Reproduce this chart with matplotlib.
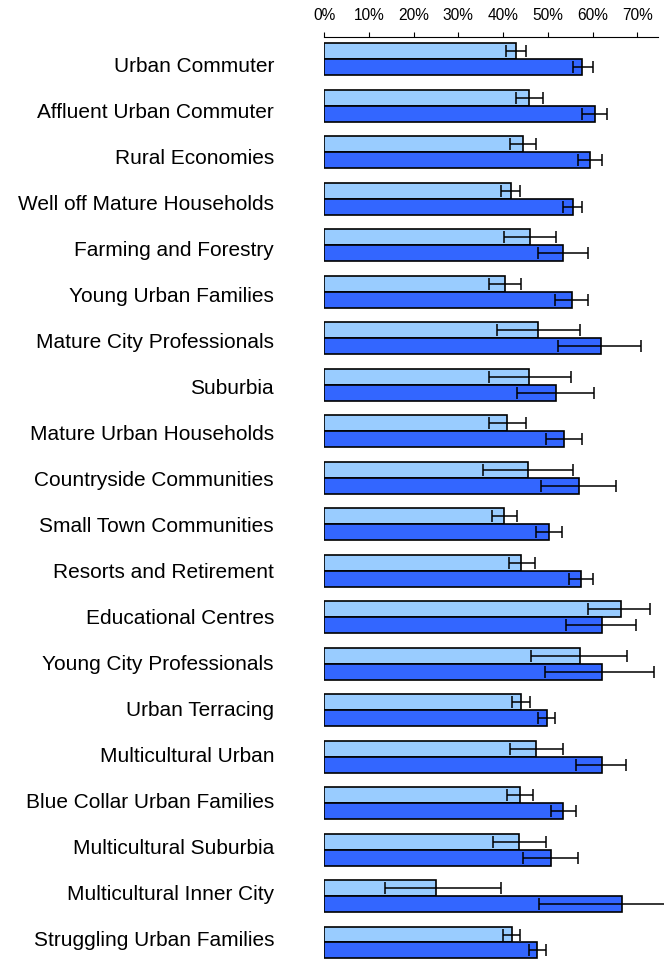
import numpy as np
import matplotlib
matplotlib.use("Agg")
import matplotlib.pyplot as plt
from matplotlib.ticker import PercentFormatter

plt.rcParams['font.family'] = ['Liberation Sans', 'DejaVu Sans']

categories = [
    "Urban Commuter", "Affluent Urban Commuter", "Rural Economies",
    "Well off Mature Households", "Farming and Forestry", "Young Urban Families",
    "Mature City Professionals", "Suburbia", "Mature Urban Households",
    "Countryside Communities", "Small Town Communities", "Resorts and Retirement",
    "Educational Centres", "Young City Professionals", "Urban Terracing",
    "Multicultural Urban", "Blue Collar Urban Families", "Multicultural Suburbia",
    "Multicultural Inner City", "Struggling Urban Families",
]

light_val = [0.429, 0.458, 0.444, 0.417, 0.461, 0.404, 0.479, 0.459, 0.410, 0.456,
             0.403, 0.441, 0.663, 0.572, 0.441, 0.473, 0.438, 0.435, 0.250, 0.419]
light_lo = [0.406, 0.429, 0.415, 0.395, 0.402, 0.369, 0.386, 0.369, 0.369, 0.355,
            0.376, 0.413, 0.591, 0.463, 0.421, 0.415, 0.410, 0.377, 0.136, 0.400]
light_hi = [0.452, 0.490, 0.473, 0.438, 0.519, 0.441, 0.572, 0.551, 0.451, 0.557,
            0.431, 0.471, 0.729, 0.677, 0.461, 0.533, 0.467, 0.495, 0.395, 0.438]

dark_val = [0.577, 0.606, 0.595, 0.556, 0.535, 0.554, 0.620, 0.518, 0.537, 0.570,
            0.502, 0.575, 0.621, 0.621, 0.498, 0.621, 0.535, 0.507, 0.666, 0.476]
dark_lo = [0.557, 0.577, 0.567, 0.535, 0.479, 0.517, 0.523, 0.432, 0.496, 0.484,
           0.473, 0.548, 0.541, 0.493, 0.478, 0.563, 0.507, 0.445, 0.481, 0.458]
dark_hi = [0.600, 0.633, 0.621, 0.576, 0.589, 0.589, 0.709, 0.603, 0.576, 0.653,
           0.531, 0.601, 0.698, 0.737, 0.517, 0.675, 0.562, 0.568, 0.850, 0.495]

x_ticks = [0.0, 0.1, 0.2, 0.3, 0.4, 0.5, 0.6, 0.7]

LIGHT = "#99CCFF"
DARK = "#3366FF"

W, H = 664, 961
fig = plt.figure(figsize=(W / 100, H / 100), dpi=100)
rect = [324 / W, 0, 334.3 / W, 924.5 / H]
ax = fig.add_axes(rect)

n = len(categories)
y = np.arange(n)
bh = 0.344

lv = np.array(light_val); dv = np.array(dark_val)
l_err = [lv - np.array(light_lo), np.array(light_hi) - lv]
d_err = [dv - np.array(dark_lo), np.array(dark_hi) - dv]

ax.barh(y - bh / 2, lv, height=bh, color=LIGHT, edgecolor="black", linewidth=1.2, zorder=2)
ax.barh(y + bh / 2, dv, height=bh, color=DARK, edgecolor="black", linewidth=1.2, zorder=2)

ekw = dict(fmt="none", ecolor="black", elinewidth=1.1, capsize=4, capthick=1.1, zorder=3)
e1 = ax.errorbar(lv, y - bh / 2, xerr=l_err, **ekw)
e2 = ax.errorbar(dv, y + bh / 2, xerr=d_err, **ekw)
for e in (e1, e2):
    for art in list(e.lines[1]) + list(e.lines[2]):
        art.set_clip_on(False)

ax.set_xlim(0, 0.747)
ax.set_ylim(19.398, -0.488)
ax.set_yticks([])
ax.xaxis.tick_top()
ax.set_xticks(x_ticks)
ax.xaxis.set_major_formatter(PercentFormatter(xmax=1.0, decimals=0))
ax.tick_params(axis="x", direction="out", length=3.6, width=0.8, pad=5.8,
               labelsize=11.2, colors="black")
for s in ("left", "right", "bottom"):
    ax.spines[s].set_visible(False)
ax.spines["top"].set_linewidth(0.8)

# label axis (category names)
axl = fig.add_axes(rect, frameon=False)
axl.set_xticks([])
axl.set_ylim(19.483, -0.615)
axl.set_yticks(y)
axl.set_yticklabels(categories)
axl.tick_params(axis="y", length=0, pad=36, labelsize=15)
axl.patch.set_visible(False)

fig.savefig("out.png", dpi=100)
